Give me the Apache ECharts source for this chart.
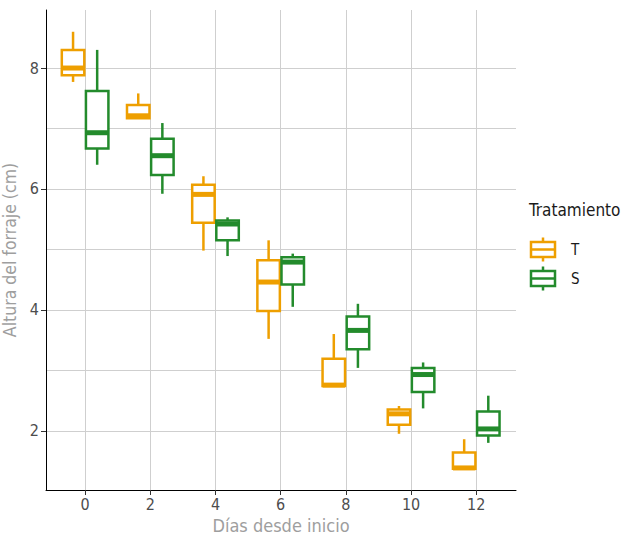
<!DOCTYPE html>
<html>
<head>
<meta charset="utf-8">
<script src="https://cdn.jsdelivr.net/npm/echarts@6/dist/echarts.min.js"></script>
<style>
  html, body { margin: 0; padding: 0; background: #fff; }
  #chart { width: 625px; height: 538px; }
</style>
</head>
<body>
<div id="chart"></div>
<script>
// datos: [min, q1, mediana, q3, max]
var dias = [0, 2, 4, 6, 8, 10, 12];
var tratT = [
  [7.77, 7.88, 8.00, 8.30, 8.60],
  [7.17, 7.17, 7.21, 7.39, 7.58],
  [4.98, 5.44, 5.91, 6.07, 6.21],
  [3.52, 3.98, 4.46, 4.82, 5.15],
  [2.74, 2.74, 2.755, 3.19, 3.60],
  [1.95, 2.10, 2.28, 2.35, 2.41],
  [1.37, 1.37, 1.385, 1.64, 1.86]
];
var tratS = [
  [6.40, 6.67, 6.93, 7.62, 8.30],
  [5.92, 6.23, 6.55, 6.83, 7.09],
  [4.89, 5.15, 5.42, 5.48, 5.53],
  [4.05, 4.42, 4.79, 4.87, 4.93],
  [3.04, 3.35, 3.66, 3.89, 4.10],
  [2.37, 2.64, 2.93, 3.04, 3.13],
  [1.80, 1.92, 2.03, 2.32, 2.58]
];
var yTicks = [2, 4, 6, 8];
var yMinor = [3, 5, 7];

var fontFam = '"Liberation Sans Narrow", "DejaVu Sans Condensed", Roboto, sans-serif';
var colT = '#EE9F00';
var colS = '#238B2C';
var dodge = 0.37;
var anchoCaja = 0.69;

function filas(arr) {
  return dias.map(function (d, i) {
    return [d].concat(arr[i]);
  });
}

function cajaRender(offset, color) {
  return function (params, api) {
    var x = api.value(0) + offset;
    var pLo = api.coord([x, api.value(1)]);
    var pQ1 = api.coord([x, api.value(2)]);
    var pMed = api.coord([x, api.value(3)]);
    var pQ3 = api.coord([x, api.value(4)]);
    var pHi = api.coord([x, api.value(5)]);
    var hw = api.size([anchoCaja, 0])[0] / 2;
    var cx = pMed[0];
    var st = { stroke: color, lineWidth: 2.5, fill: null };
    return {
      type: 'group',
      children: [
        { type: 'line', shape: { x1: cx, y1: pHi[1], x2: cx, y2: pQ3[1] }, style: st },
        { type: 'line', shape: { x1: cx, y1: pQ1[1], x2: cx, y2: pLo[1] }, style: st },
        { type: 'rect', shape: { x: cx - hw, y: pQ3[1], width: hw * 2, height: pQ1[1] - pQ3[1] },
          style: { stroke: color, lineWidth: 2.5, fill: '#fff' } },
        { type: 'line', shape: { x1: cx - hw, y1: pMed[1], x2: cx + hw, y2: pMed[1] },
          style: { stroke: color, lineWidth: 5 } }
      ]
    };
  };
}

var chart = echarts.init(document.getElementById('chart'), null, { renderer: 'svg' });

function leyendaItem(y, color, label) {
  return [
    { type: 'line', shape: { x1: 543, y1: y - 12, x2: 543, y2: y + 12 }, style: { stroke: color, lineWidth: 2.5 } },
    { type: 'rect', shape: { x: 531, y: y - 7.5, width: 24, height: 15 }, style: { stroke: color, lineWidth: 2.5, fill: '#fff' } },
    { type: 'line', shape: { x1: 531, y1: y, x2: 555, y2: y }, style: { stroke: color, lineWidth: 2.5 } },
    { type: 'text', x: 571, y: y, style: { text: label, font: '15px ' + fontFam, fill: '#1a1a1a', verticalAlign: 'middle' } }
  ];
}

var option = {
  animation: false,
  textStyle: { fontFamily: fontFam },
  grid: { left: 46, top: 10, right: 109, bottom: 48, containLabel: false, outerBoundsMode: 'none' },
  xAxis: {
    type: 'value',
    min: -1.2,
    max: 13.22,
    name: 'Días desde inicio',
    nameLocation: 'middle',
    nameGap: 26,
    nameTextStyle: { color: '#9e9e9e', fontSize: 18, fontFamily: fontFam },
    axisLine: { show: true, onZero: false, lineStyle: { color: '#000', width: 1 } },
    axisTick: { show: true, length: 5, customValues: dias, lineStyle: { color: '#333' } },
    axisLabel: { customValues: dias, color: '#4d4d4d', fontSize: 16, margin: 6, fontFamily: fontFam },
    splitLine: { show: true, lineStyle: { color: '#cfcfcf', width: 1 } }
  },
  yAxis: [{
    type: 'value',
    min: 1.02,
    max: 8.96,
    name: 'Altura del forraje (cm)',
    nameLocation: 'middle',
    nameRotate: 90,
    nameGap: 18,
    nameTextStyle: { color: '#9e9e9e', fontSize: 17.5, fontFamily: fontFam },
    axisLine: { show: true, onZero: false, lineStyle: { color: '#000', width: 1 } },
    axisTick: { show: true, length: 5, customValues: yTicks, lineStyle: { color: '#333' } },
    axisLabel: { customValues: yTicks, color: '#4d4d4d', fontSize: 16, margin: 7, fontFamily: fontFam },
    splitLine: { show: true, lineStyle: { color: '#cfcfcf', width: 1 } }
  }, {
    type: 'value',
    min: 1.02,
    max: 8.96,
    position: 'left',
    axisLine: { show: false },
    axisTick: { show: false, customValues: yMinor },
    axisLabel: { show: false, customValues: yMinor },
    splitLine: { show: true, lineStyle: { color: '#cfcfcf', width: 1 } }
  }],
  series: [{
    name: 'T',
    type: 'custom',
    renderItem: cajaRender(-dodge, colT),
    encode: { x: 0, y: [1, 2, 3, 4, 5] },
    data: filas(tratT),
    z: 3
  }, {
    name: 'S',
    type: 'custom',
    renderItem: cajaRender(dodge, colS),
    encode: { x: 0, y: [1, 2, 3, 4, 5] },
    data: filas(tratS),
    z: 3
  }],
  graphic: [
    { type: 'text', left: 529, top: 201, style: { text: 'Tratamiento', font: '17px ' + fontFam, fill: '#1a1a1a' } }
  ].concat(leyendaItem(249.5, colT, 'T'), leyendaItem(278.5, colS, 'S'))
};
chart.setOption(option);
</script>
</body>
</html>
